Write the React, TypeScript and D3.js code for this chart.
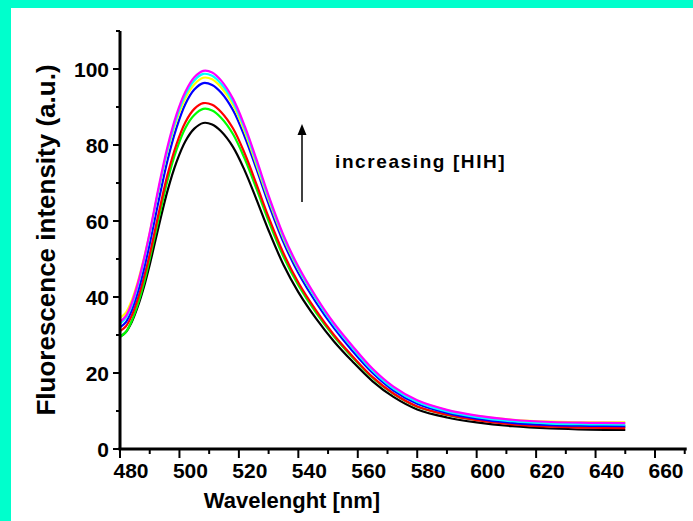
import React from "react";
import * as d3 from "d3";

const wavelengths = [480, 482, 484, 486, 488, 490, 493, 496, 499, 502, 505, 508, 511, 514, 518, 522, 526, 530, 535, 540, 546, 552, 558, 565, 572, 580, 590, 600, 612, 625, 638, 650];

const blackSeries = [29.5, 30.8, 33.5, 37.5, 42.5, 48.5, 58.5, 68, 75.5, 81, 84.3, 85.8, 85.4, 83.6, 79.5, 73.2, 65.5, 57.5, 48.5, 41.3, 34.3, 28.3, 23.2, 17.8, 13.7, 10.4, 8.3, 7, 6, 5.4, 5.1, 5.0];
const greenSeries = [29.5, 30.8, 33.8, 38.1, 43.5, 50, 60.6, 70.7, 78.7, 84.5, 87.9, 89.5, 89.1, 87.2, 82.9, 76.3, 68.3, 60, 50.6, 43.1, 35.8, 29.6, 24.3, 18.7, 14.5, 11.1, 9.0, 7.7, 6.7, 6.1, 5.9, 5.8];
const redSeries = [31, 32.3, 35.2, 39.5, 45, 51.2, 62, 72.2, 80.2, 86, 89.5, 91, 90.6, 88.7, 84.4, 77.7, 69.5, 61, 51.5, 43.8, 36.4, 30, 24.6, 18.9, 14.6, 11.2, 9.0, 7.6, 6.5, 5.9, 5.6, 5.5];
const blueSeries = [32, 33.4, 36.6, 41.3, 47.2, 54, 65.3, 76, 84.5, 90.8, 94.6, 96.3, 95.8, 93.8, 89.2, 82.1, 73.5, 64.5, 54.4, 46.3, 38.5, 31.8, 26, 20, 15.4, 11.9, 9.5, 8.0, 6.9, 6.3, 6.1, 6.0];
const yellowSeries = [34.5, 35.9, 39.2, 44, 50, 56.8, 68.2, 78.5, 86.5, 92.3, 96, 97.7, 97.3, 95.2, 90.6, 83.4, 74.6, 65.6, 55.4, 47.3, 39.5, 32.8, 27, 20.9, 16.2, 12.6, 10.2, 8.7, 7.7, 7.2, 7.0, 7.0];
const cyanSeries = [33, 34.5, 37.9, 43, 49.3, 56.4, 68.2, 78.8, 87.2, 93.2, 97, 98.7, 98.2, 96.1, 91.4, 84.2, 75.3, 66.1, 55.8, 47.5, 39.5, 32.6, 26.8, 20.6, 15.9, 12.4, 9.9, 8.4, 7.3, 6.7, 6.5, 6.4];
const magentaSeries = [33.5, 35, 38.5, 43.6, 49.8, 57, 68.9, 79.6, 88, 94, 97.8, 99.5, 99.1, 97.0, 92.2, 84.9, 76.0, 66.7, 56.3, 48, 40, 33.1, 27.3, 21.1, 16.4, 12.8, 10.3, 8.8, 7.7, 7.1, 6.9, 6.8];

const allSeries = [blackSeries, greenSeries, redSeries, blueSeries, yellowSeries, cyanSeries, magentaSeries];
const seriesColors = ["#000000", "#00ff00", "#ff0000", "#0000ff", "#ffff00", "#00ffff", "#ff00ff"];

const xTickLabels = [480, 500, 520, 540, 560, 580, 600, 620, 640, 660];
const xMinorTicks = [490, 510, 530, 550, 570, 590, 610, 630, 650, 670];
const yTickLabels = [0, 20, 40, 60, 80, 100];
const yMinorTicks = [10, 30, 50, 70, 90, 110];

const xTitle = "Wavelenght [nm]";
const yTitle = "Fluorescence intensity (a.u.)";
const annotation = "increasing [HIH]";

const W = 693;
const H = 521;
const FONT = "'Liberation Sans', Arial, sans-serif";

export default function App() {
  const x = d3.scaleLinear().domain([480, 660]).range([120, 655]);
  const y = d3.scaleLinear().domain([0, 100]).range([449, 69]);

  const line = d3
    .line<number>()
    .x((_, i) => x(wavelengths[i]))
    .y((d) => y(d))
    .curve(d3.curveCatmullRom.alpha(0.5));

  const x0 = x(480);
  const y0 = y(0);

  return (
    <svg
      width={W}
      height={H}
      style={{ position: "absolute", left: 0, top: 0, background: "#ffffff" }}
      fontFamily={FONT}
    >
      <rect x={0} y={0} width={W} height={H} fill="#ffffff" />
      <rect x={0} y={0} width={W} height={8} fill="#00ffcc" />
      <rect x={0} y={0} width={11} height={H} fill="#00ffcc" />

      <g fill="none" strokeWidth={2.2} strokeLinejoin="round">
        {allSeries.map((s, i) => (
          <path key={i} d={line(s) || ""} stroke={seriesColors[i]} />
        ))}
      </g>

      <g stroke="#000">
        <line x1={x0} x2={x0} y1={y(110)} y2={y0} strokeWidth={3} />
        <line x1={x0 - 1.5} x2={x(670) + 2} y1={y0} y2={y0} strokeWidth={3} />
        {xTickLabels.map((t) => (
          <line key={"xt" + t} x1={x(t)} x2={x(t)} y1={y0} y2={y0 + 9} strokeWidth={2} />
        ))}
        {xMinorTicks.map((t) => (
          <line key={"xm" + t} x1={x(t)} x2={x(t)} y1={y0} y2={y0 + 5} strokeWidth={2} />
        ))}
        {yTickLabels.map((t) => (
          <line key={"yt" + t} x1={x0 - 7} x2={x0} y1={y(t)} y2={y(t)} strokeWidth={2} />
        ))}
        {yMinorTicks.map((t) => (
          <line key={"ym" + t} x1={x0 - 4} x2={x0} y1={y(t)} y2={y(t)} strokeWidth={2} />
        ))}
      </g>

      <g fontWeight="bold" fontSize={21} fill="#000">
        {xTickLabels.map((t) => (
          <text key={"xl" + t} x={x(t) + 11} y={478} textAnchor="middle">
            {t}
          </text>
        ))}
        {yTickLabels.map((t) => (
          <text key={"yl" + t} x={109} y={y(t)} dy="0.36em" textAnchor="end">
            {t}
          </text>
        ))}
      </g>

      <text x={292} y={508} textAnchor="middle" fontWeight="bold" fontSize={22}>
        {xTitle}
      </text>
      <text
        transform={`translate(55, 240) rotate(-90)`}
        textAnchor="middle"
        fontWeight="bold"
        fontSize={26}
      >
        {yTitle}
      </text>

      <line x1={302} x2={302} y1={202} y2={130} stroke="#000" strokeWidth={1.5} />
      <path d="M297.5,135 L302,124 L306.5,135 Z" fill="#000" />
      <text x={335} y={168} fontWeight="bold" fontSize={19} letterSpacing={1.6}>
        {annotation}
      </text>
    </svg>
  );
}
